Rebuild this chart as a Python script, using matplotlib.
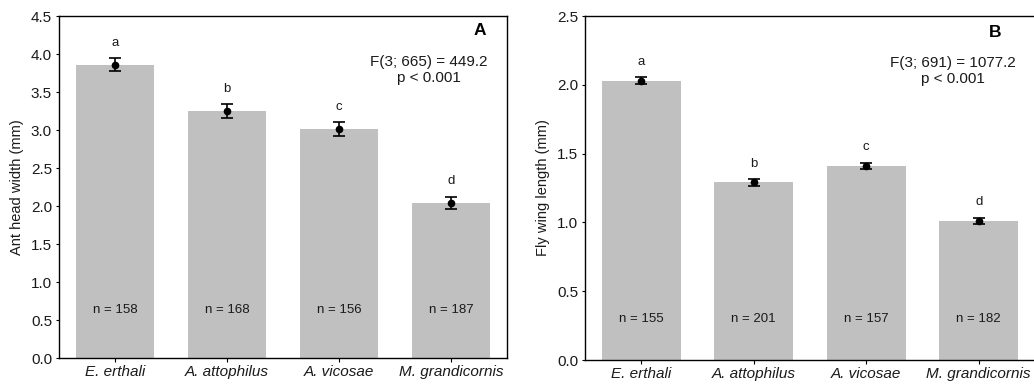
import matplotlib
matplotlib.use("Agg")
import matplotlib.pyplot as plt
import numpy as np

plt.rcParams['font.family'] = ['Liberation Sans', 'DejaVu Sans']

categories = ["E. erthali", "A. attophilus", "A. vicosae", "M. grandicornis"]

ant_means = [3.86, 3.25, 3.01, 2.04]
ant_err = [0.09, 0.09, 0.095, 0.08]
ant_letters = ["a", "b", "c", "d"]
ant_n = [158, 168, 156, 187]

fly_means = [2.03, 1.29, 1.41, 1.01]
fly_err = [0.025, 0.025, 0.025, 0.025]
fly_letters = ["a", "b", "c", "d"]
fly_n = [155, 201, 157, 182]

fig = plt.figure(figsize=(10.34, 3.85), dpi=100)
axA = fig.add_axes([59/1034, 27/385, 448/1034, 342/385])
axB = fig.add_axes([585/1034, 25/385, 450/1034, 344/385])

def panel(ax, means, err, letters, ns, ylim, yticks, ylabel, label, ftext,
          letter_off, n_y, lab_xy, f_xy):
    x = np.arange(len(categories))
    ax.bar(x, means, width=0.70, color="#c0c0c0", zorder=1)
    ax.errorbar(x, means, yerr=err, fmt="o", color="black", ms=4.5,
                capsize=4.3, elinewidth=1.2, capthick=1.2, zorder=3)
    for xi, m, l, n in zip(x, means, letters, ns):
        ax.text(xi, m + letter_off, l, ha="center", va="center", fontsize=9.5,
                color="#1a1a1a")
        ax.text(xi, n_y, f"n = {n}", ha="center", va="center", fontsize=9.5,
                color="#1a1a1a")
    ax.set_xlim(-0.5, 3.5)
    ax.set_ylim(*ylim)
    ax.set_yticks(yticks)
    ax.set_yticklabels([f"{t:.1f}" for t in yticks], fontsize=11, color="#1a1a1a")
    ax.set_xticks(x)
    ax.set_xticklabels(categories, fontsize=11, style="italic", color="#1a1a1a")
    ax.tick_params(axis="y", length=2, direction="out", pad=3)
    ax.tick_params(axis="x", length=3, direction="out", pad=2)
    ax.set_ylabel(ylabel, fontsize=10.5, labelpad=5, color="#1a1a1a")
    for s in ax.spines.values():
        s.set_linewidth(1.0)
    ax.text(lab_xy[0], lab_xy[1], label, transform=ax.transAxes, ha="center",
            va="center", fontsize=12.5, fontweight="bold")
    ax.text(f_xy[0], f_xy[1], ftext, transform=ax.transAxes, ha="center",
            va="center", fontsize=11, linespacing=1.15, color="#1a1a1a")

panel(axA, ant_means, ant_err, ant_letters, ant_n, (0, 4.5),
      np.arange(0, 4.51, 0.5), "Ant head width (mm)", "A",
      "F(3; 665) = 449.2\np < 0.001", 0.29, 0.63, (0.94, 0.958), (0.826, 0.842))
panel(axB, fly_means, fly_err, fly_letters, fly_n, (0, 2.5),
      np.arange(0, 2.51, 0.5), "Fly wing length (mm)", "B",
      "F(3; 691) = 1077.2\np < 0.001", 0.135, 0.3, (0.911, 0.953), (0.818, 0.84))

fig.savefig("out.png", dpi=100)
